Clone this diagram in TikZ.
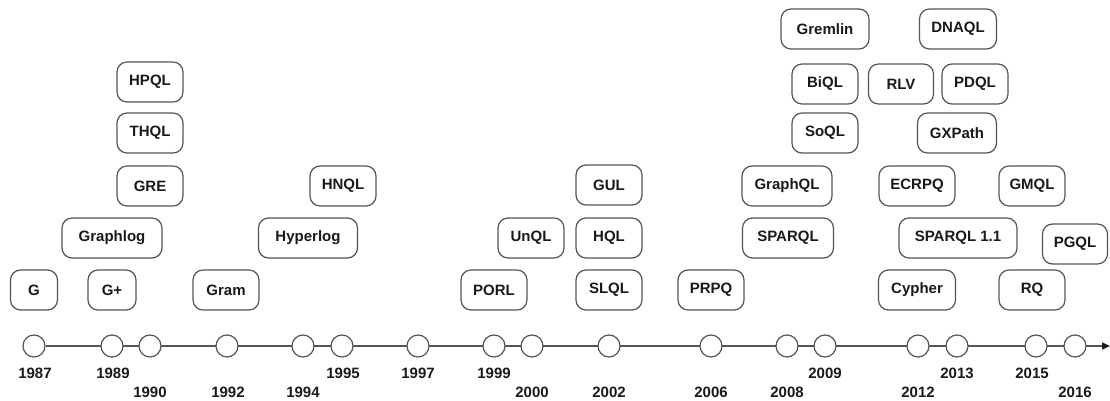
\documentclass[tikz,border=0pt]{standalone}
\usepackage{fontspec}
\setmainfont{Liberation Sans}
\usetikzlibrary{arrows.meta}
\definecolor{edge}{HTML}{555555}
\definecolor{ink}{HTML}{1A1A1A}
\begin{document}
\begin{tikzpicture}[x=1pt,y=-1pt,
  lang/.style={draw=edge, line width=1.2pt, rounded corners=10pt, fill=white,
    minimum height=40pt, minimum width=66pt, inner sep=0pt, text=ink,
    font=\fontsize{15}{17}\selectfont\bfseries},
  yr/.style={circle, draw=edge, line width=1.2pt, fill=white, minimum size=22pt, inner sep=0pt},
  yl/.style={text=ink, inner sep=0pt, font=\fontsize{15}{17}\selectfont\bfseries},
  axis/.style={draw=edge, line width=1.4pt, -{Triangle[length=8pt,width=7pt,color=ink]}}]
\useasboundingbox (0,0) rectangle (1110,401);

% timeline
\coordinate (tip) at (1110,346);
\node[yr] (y1987) at (34,346) {};
\draw[axis] (y1987) -- (tip);
\foreach \x/\n in {112/1989,150/1990,227/1992,303/1994,342/1995,418/1997,494/1999,532/2000,
                   609/2002,711/2006,787/2008,825/2009,918/2012,957/2013,1036/2015,1075/2016}
  \node[yr] (y\n) at (\x,346) {};

% year labels (upper row)
\foreach \x/\n in {35/1987,113/1989,343/1995,418/1997,494/1999,825/2009,957/2013,1032/2015}
  \node[yl] (l\n) at (\x,373) {\n};
% year labels (lower row)
\foreach \x/\n in {150/1990,228/1992,303/1994,532/2000,609/2002,711/2006,787/2008,918/2012,1075/2016}
  \node[yl] (l\n) at (\x,392) {\n};

% languages
\node[lang, minimum width=47pt] (G) at (34,290) {G};
\node[lang, minimum width=48pt] (Gp) at (112,290) {G+};
\node[lang, minimum width=100pt] (Graphlog) at (112,238) {Graphlog};
\node[lang] (GRE) at (150,186) {GRE};
\node[lang] (THQL) at (150,133) {THQL};
\node[lang] (HPQL) at (150,82) {HPQL};
\node[lang] (Gram) at (226,290) {Gram};
\node[lang, minimum width=99pt] (Hyperlog) at (308,238) {Hyperlog};
\node[lang] (HNQL) at (343,186) {HNQL};
\node[lang] (PORL) at (494,290) {PORL};
\node[lang] (UnQL) at (531,238) {UnQL};
\node[lang] (SLQL) at (609,290) {SLQL};
\node[lang] (HQL) at (609,238) {HQL};
\node[lang] (GUL) at (609,185) {GUL};
\node[lang] (PRPQ) at (711,290) {PRPQ};
\node[lang, minimum width=91pt] (SPARQL) at (788,238) {SPARQL};
\node[lang, minimum width=90pt] (GraphQL) at (787,186) {GraphQL};
\node[lang] (SoQL) at (825,133) {SoQL};
\node[lang] (BiQL) at (825,84) {BiQL};
\node[lang, minimum width=88pt] (Gremlin) at (825,29) {Gremlin};
\node[lang, minimum width=77pt] (Cypher) at (917,290) {Cypher};
\node[lang, minimum width=118pt] (SPARQL11) at (958,238) {SPARQL 1.1};
\node[lang, minimum width=76pt] (ECRPQ) at (917,186) {ECRPQ};
\node[lang, minimum width=79pt] (GXPath) at (957,133) {GXPath};
\node[lang, minimum width=65pt] (RLV) at (901,84) {RLV};
\node[lang] (PDQL) at (975,84) {PDQL};
\node[lang, minimum width=77pt] (DNAQL) at (958,29) {DNAQL};
\node[lang] (RQ) at (1032,290) {RQ};
\node[lang] (GMQL) at (1032,186) {GMQL};
\node[lang, minimum width=65pt] (PGQL) at (1075,244) {PGQL};
\end{tikzpicture}
\end{document}
